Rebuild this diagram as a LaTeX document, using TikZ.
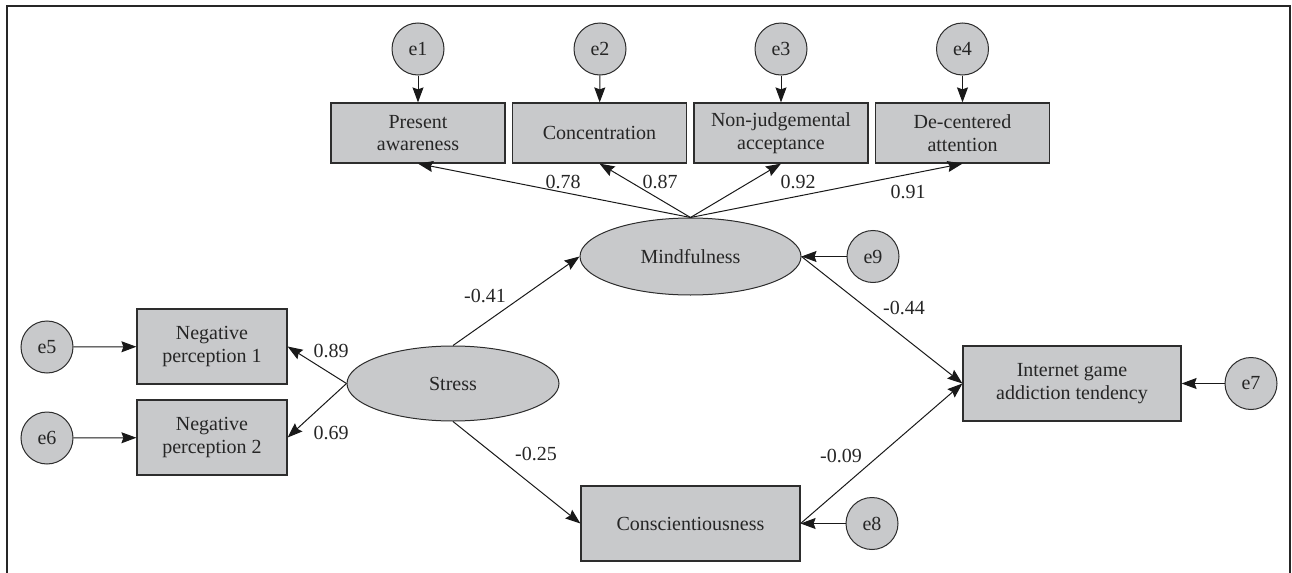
\documentclass[tikz,border=0pt]{standalone}
\usepackage{fontspec}
\setmainfont{Liberation Serif}
\usetikzlibrary{shapes.geometric,arrows.meta}
\definecolor{boxgray}{RGB}{200,201,203}
\definecolor{edgegray}{RGB}{45,45,45}
\tikzset{
  every node/.style={font=\fontsize{10pt}{11.3pt}\selectfont, text=black!85},
  err/.style={circle, draw=edgegray, fill=boxgray, line width=0.5pt, minimum size=26pt, inner sep=0pt},
  obs/.style={rectangle, draw=edgegray, fill=boxgray, line width=0.6pt, inner sep=0pt, align=center},
  topbox/.style={obs, minimum width=87pt, minimum height=30pt},
  midbox/.style={obs, minimum width=75pt, minimum height=37.5pt},
  latent/.style={ellipse, draw=edgegray, fill=boxgray, line width=0.5pt, inner sep=0pt},
  arr/.style={-{Stealth[length=7.5pt,width=5.5pt,inset=1pt]}, line width=0.5pt, draw=black!90},
  coef/.style={inner sep=1pt},
  frameline/.style={line width=1pt, draw=black!85}
}
\begin{document}
\begin{tikzpicture}[x=0.5pt,y=-0.5pt]
\useasboundingbox (0,0) rectangle (1292,573);
\draw[frameline] (7,573) -- (7,6) -- (1290,6) -- (1290,573);

% error terms top
\node[err] (e1) at (418,49) {e1};
\node[err] (e2) at (600,49) {e2};
\node[err] (e3) at (781,49) {e3};
\node[err] (e4) at (962.5,49) {e4};

% indicators of mindfulness
\node[topbox] (pa) at (418,133) {Present\\awareness};
\node[topbox] (co) at (599.5,133) {Concentration};
\node[topbox] (nj) at (781,133) {Non-judgemental\\acceptance};
\node[topbox] (dc) at (962.5,133) {De-centered\\attention};

% latent variables
\node[latent, minimum width=110.5pt, minimum height=38.5pt] (mind) at (690.5,256.5) {Mindfulness};
\node[latent, minimum width=106pt, minimum height=37.5pt] (stress) at (453,383.5) {Stress};
\node[err] (e9) at (873,256.5) {e9};

% stress indicators
\node[midbox] (n1) at (212,346.5) {Negative\\perception 1};
\node[midbox] (n2) at (212,437.5) {Negative\\perception 2};
\node[err] (e5) at (47,347) {e5};
\node[err] (e6) at (47,438) {e6};

% outcome and conscientiousness
\node[obs, minimum width=109pt, minimum height=37.5pt] (igat) at (1072,383.5) {Internet game\\addiction tendency};
\node[err] (e7) at (1251,383.5) {e7};
\node[obs, minimum width=109.5pt, minimum height=37.5pt] (consc) at (690.5,523.5) {Conscientiousness};
\node[err] (e8) at (872,523.5) {e8};

% error arrows
\draw[arr] (e1) -- (pa);
\draw[arr] (e2) -- (co);
\draw[arr] (e3) -- (nj);
\draw[arr] (e4) -- (dc);
\draw[arr] (e5) -- (n1);
\draw[arr] (e6) -- (n2);
\draw[arr] (e9) -- (mind.east);
\draw[arr] (e7) -- (igat);
\draw[arr] (e8) -- (consc.east);

% loadings
\draw[arr] (mind.north) -- (pa.south);
\draw[arr] (mind.north) -- (co.south);
\draw[arr] (mind.north) -- (nj.south);
\draw[arr] (mind.north) -- (dc.south);
\draw[arr] (stress.west) -- (n1.east);
\draw[arr] (stress.west) -- (n2.east);

% structural paths
\draw[arr] (stress.north) -- (mind.west);
\draw[arr] (stress.south) -- (consc.west);
\draw[arr] (mind.east) -- (igat.west);
\draw[arr] (consc.east) -- (igat.west);

% coefficients
\node[coef] (l78) at (563,182) {0.78};
\node[coef] (l87) at (660,182) {0.87};
\node[coef] (l92) at (798,182) {0.92};
\node[coef] (l91) at (908,192) {0.91};
\node[coef] (l41) at (485,296) {-0.41};
\node[coef] (l44) at (904,308) {-0.44};
\node[coef] (l89) at (331,351) {0.89};
\node[coef] (l69) at (331,433) {0.69};
\node[coef] (l25) at (536,454) {-0.25};
\node[coef] (l09) at (841,456) {-0.09};
\end{tikzpicture}
\end{document}
